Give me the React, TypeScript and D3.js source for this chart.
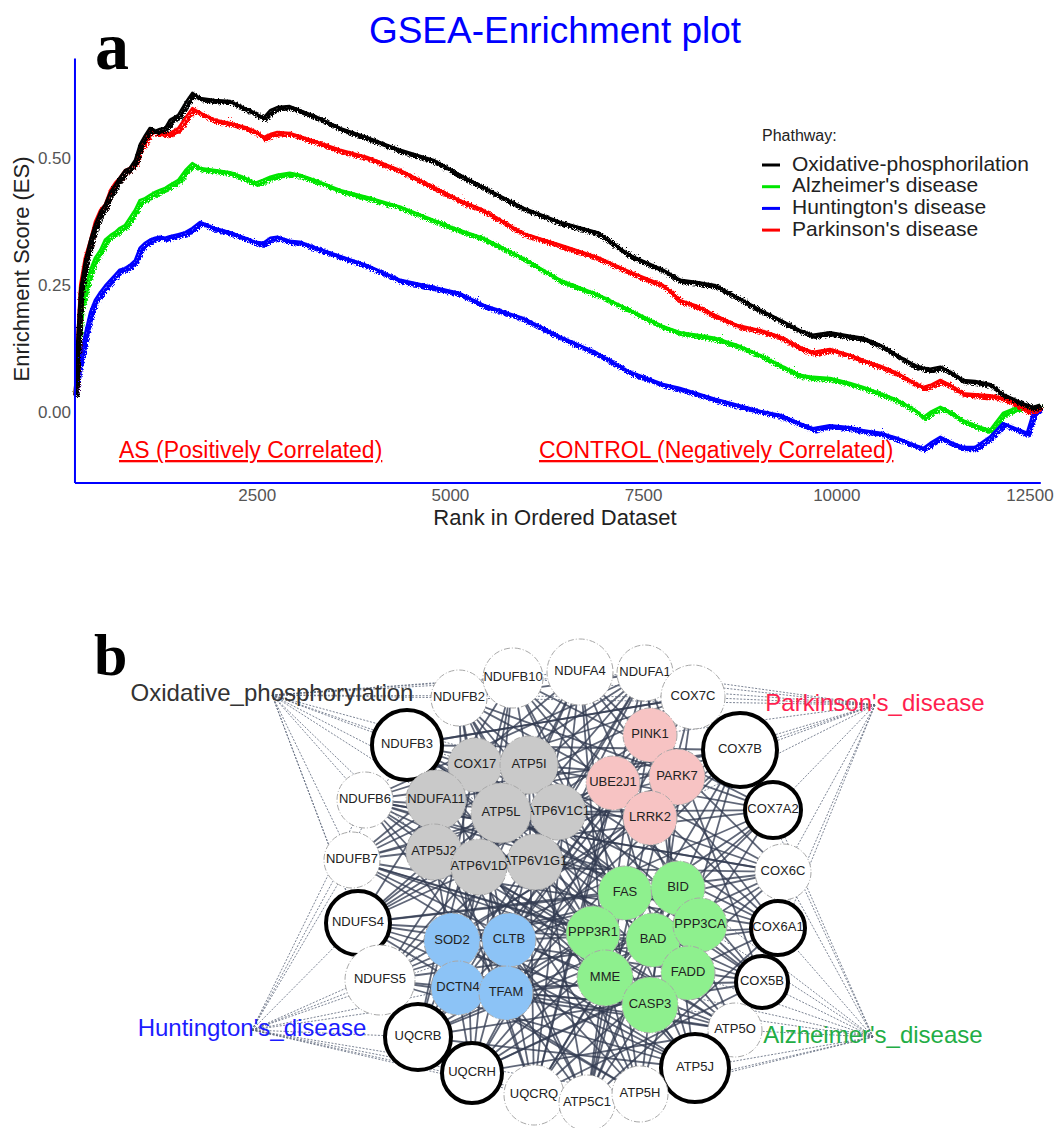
import React from 'react';
import * as d3 from 'd3';

// ---- panel a : GSEA running enrichment score ----
const ranks = [140, 180, 210, 270, 340, 400, 470, 530, 600, 660, 720, 790, 850, 920, 980, 1050, 1110, 1180, 1240, 1310,
  1370, 1480, 1570, 1660, 1760, 1950, 2150, 2340, 2470, 2580, 2670, 2760, 2920, 3050, 3270, 3570, 3920, 4350, 4780, 5120,
  5420, 5940, 6420, 6900, 7320, 7750, 7970, 8190, 8420, 8710, 9010, 9270, 9520, 9690, 9910, 10170, 10340, 10560, 10780, 11010,
  11120, 11210, 11340, 11470, 11630, 11790, 11980, 12150, 12310, 12460, 12540, 12630];

const esOxidative = [0.037, 0.165, 0.244, 0.299, 0.343, 0.372, 0.398, 0.412, 0.437, 0.451,
  0.465, 0.480, 0.484, 0.500, 0.530, 0.549, 0.563, 0.557, 0.561, 0.563,
  0.579, 0.589, 0.612, 0.632, 0.622, 0.618, 0.616, 0.602, 0.593, 0.583,
  0.598, 0.604, 0.606, 0.598, 0.585, 0.563, 0.545, 0.520, 0.500, 0.471,
  0.447, 0.406, 0.378, 0.358, 0.313, 0.284, 0.264, 0.260, 0.254, 0.230,
  0.205, 0.185, 0.165, 0.156, 0.161, 0.154, 0.150, 0.136, 0.116, 0.096,
  0.091, 0.089, 0.093, 0.083, 0.067, 0.065, 0.059, 0.039, 0.028, 0.018,
  0.014, 0.018];

const esParkinson = [0.037, 0.165, 0.254, 0.307, 0.343, 0.378, 0.402, 0.412, 0.441, 0.455,
  0.465, 0.480, 0.484, 0.496, 0.524, 0.540, 0.559, 0.555, 0.555, 0.553,
  0.553, 0.563, 0.583, 0.602, 0.593, 0.579, 0.573, 0.565, 0.557, 0.545,
  0.551, 0.555, 0.553, 0.547, 0.536, 0.520, 0.506, 0.480, 0.447, 0.421,
  0.402, 0.356, 0.333, 0.309, 0.280, 0.254, 0.224, 0.213, 0.195, 0.175,
  0.165, 0.152, 0.132, 0.122, 0.128, 0.116, 0.106, 0.095, 0.081, 0.061,
  0.053, 0.057, 0.067, 0.057, 0.041, 0.039, 0.037, 0.032, 0.020, 0.008,
  0.008, 0.016];

const esAlzheimer = [0.037, 0.146, 0.205, 0.244, 0.284, 0.307, 0.323, 0.343, 0.352, 0.358,
  0.366, 0.372, 0.386, 0.402, 0.421, 0.425, 0.431, 0.437, 0.441, 0.445,
  0.451, 0.461, 0.480, 0.494, 0.484, 0.480, 0.476, 0.465, 0.455, 0.461,
  0.467, 0.471, 0.475, 0.471, 0.459, 0.441, 0.427, 0.408, 0.382, 0.362,
  0.347, 0.307, 0.264, 0.236, 0.205, 0.173, 0.161, 0.156, 0.150, 0.136,
  0.116, 0.096, 0.077, 0.073, 0.071, 0.061, 0.053, 0.041, 0.028, 0.008,
  -0.006, 0.004, 0.014, 0.004, -0.012, -0.022, -0.032, 0.002, 0.012, 0.012,
  0.012, 0.018];

const esHuntington = [0.037, 0.087, 0.106, 0.156, 0.201, 0.224, 0.240, 0.252, 0.264, 0.274,
  0.284, 0.287, 0.293, 0.303, 0.327, 0.337, 0.343, 0.347, 0.349, 0.347,
  0.350, 0.354, 0.358, 0.366, 0.378, 0.366, 0.358, 0.347, 0.339, 0.337,
  0.347, 0.349, 0.341, 0.339, 0.327, 0.311, 0.293, 0.264, 0.250, 0.238,
  0.215, 0.189, 0.152, 0.120, 0.083, 0.059, 0.051, 0.041, 0.030, 0.018,
  0.006, -0.002, -0.018, -0.028, -0.022, -0.026, -0.032, -0.037, -0.047, -0.061,
  -0.067, -0.057, -0.045, -0.055, -0.065, -0.065, -0.045, -0.018, -0.028, -0.037,
  0.002, 0.014];

const pathwayNames = ['Oxidative-phosphorilation', "Alzheimer's disease", "Huntington's disease", "Parkinson's disease"];
const pathwayColors = ['#000000', '#00e600', '#0000ff', '#ff0000'];
const esTicks = [0, 0.25, 0.5];
const rankTicks = [2500, 5000, 7500, 10000, 12500];

// ---- panel b : gene network ----
const ringGenes = ['NDUFB2', 'NDUFB10', 'NDUFA4', 'NDUFA1', 'COX7C', 'NDUFB3', 'COX7B', 'NDUFB6', 'COX7A2', 'NDUFB7',
  'COX6C', 'NDUFS4', 'COX6A1', 'NDUFS5', 'COX5B', 'UQCRB', 'ATP5O', 'UQCRH', 'ATP5J', 'UQCRQ', 'ATP5C1', 'ATP5H'];
const grayGenes = ['COX17', 'ATP5I', 'ATP6V1C1', 'NDUFA11', 'ATP5L', 'ATP5J2', 'ATP6V1G1', 'ATP6V1D'];
const pinkGenes = ['PINK1', 'UBE2J1', 'PARK7', 'LRRK2'];
const blueGenes = ['SOD2', 'CLTB', 'DCTN4', 'TFAM'];
const greenGenes = ['FAS', 'BID', 'PPP3R1', 'BAD', 'PPP3CA', 'MME', 'FADD', 'CASP3'];
const boldGenes = ['NDUFB3', 'COX7B', 'COX7A2', 'NDUFS4', 'COX6A1', 'COX5B', 'UQCRB', 'UQCRH', 'ATP5J'];

const pathways = ['Oxidative_phosphorylation', "Parkinson's_disease", "Huntington's_disease", "Alzheimer's_disease"];
const pathwayLabelColors = ['#333333', '#ff1f4f', '#1c1cff', '#22ad45'];
const pathwayMembers = [
  ['NDUFB2', 'NDUFB10', 'NDUFA4', 'NDUFA1', 'NDUFB3', 'NDUFB6', 'NDUFB7', 'NDUFS4', 'NDUFS5', 'NDUFA11', 'COX17', 'ATP5I', 'ATP5J2', 'ATP5L', 'COX7C'],
  ['COX7C', 'NDUFA1', 'NDUFA4', 'COX7B', 'COX7A2', 'COX6C', 'COX6A1', 'PINK1', 'PARK7', 'LRRK2', 'UBE2J1', 'NDUFB10', 'COX5B', 'NDUFB2'],
  ['NDUFB6', 'NDUFB7', 'NDUFS4', 'NDUFS5', 'UQCRB', 'UQCRH', 'UQCRQ', 'SOD2', 'DCTN4', 'CLTB', 'TFAM', 'ATP5C1', 'NDUFB3', 'ATP5H'],
  ['COX6C', 'COX6A1', 'COX5B', 'ATP5O', 'ATP5J', 'ATP5H', 'COX7A2', 'FADD', 'CASP3', 'PPP3CA', 'ATP5C1', 'BID', 'MME', 'COX7B'],
];

const interactions = [
  ['NDUFB2', 'COX7A2'], ['NDUFB2', 'ATP5O'], ['NDUFB2', 'UQCRQ'], ['NDUFB2', 'COX6C'], ['NDUFB2', 'ATP5H'],
  ['NDUFB10', 'UQCRH'], ['NDUFB10', 'COX5B'], ['NDUFB10', 'ATP5C1'], ['NDUFB10', 'NDUFS4'], ['NDUFB10', 'COX6A1'], ['NDUFB10', 'ATP5J'],
  ['NDUFA4', 'UQCRB'], ['NDUFA4', 'ATP5H'], ['NDUFA4', 'NDUFS5'], ['NDUFA4', 'COX6C'], ['NDUFA4', 'UQCRQ'], ['NDUFA4', 'NDUFB7'], ['NDUFA4', 'ATP5O'],
  ['NDUFA1', 'UQCRQ'], ['NDUFA1', 'NDUFB6'], ['NDUFA1', 'ATP5C1'], ['NDUFA1', 'NDUFS4'], ['NDUFA1', 'COX5B'], ['NDUFA1', 'UQCRB'], ['NDUFA1', 'ATP5J'],
  ['COX7C', 'NDUFB7'], ['COX7C', 'UQCRH'], ['COX7C', 'ATP5C1'], ['COX7C', 'NDUFS5'], ['COX7C', 'NDUFB3'],
  ['COX7B', 'NDUFB6'], ['COX7B', 'UQCRB'], ['COX7B', 'ATP5H'], ['COX7B', 'NDUFS4'], ['COX7B', 'NDUFB3'], ['COX7B', 'UQCRQ'],
  ['COX7A2', 'NDUFB7'], ['COX7A2', 'UQCRH'], ['COX7A2', 'NDUFS5'], ['COX7A2', 'ATP5C1'], ['COX7A2', 'NDUFB3'],
  ['COX6C', 'NDUFB6'], ['COX6C', 'UQCRB'], ['COX6C', 'UQCRQ'], ['COX6C', 'NDUFB3'], ['COX6C', 'NDUFS4'],
  ['COX6A1', 'NDUFB7'], ['COX6A1', 'UQCRH'], ['COX6A1', 'NDUFS5'], ['COX6A1', 'NDUFB3'], ['COX6A1', 'ATP5C1'],
  ['COX5B', 'NDUFB6'], ['COX5B', 'UQCRB'], ['COX5B', 'NDUFS4'], ['COX5B', 'NDUFB3'], ['COX5B', 'UQCRQ'],
  ['ATP5O', 'NDUFB3'], ['ATP5O', 'NDUFB6'], ['ATP5O', 'NDUFS4'], ['ATP5O', 'UQCRH'],
  ['ATP5J', 'NDUFB3'], ['ATP5J', 'NDUFB7'], ['ATP5J', 'UQCRB'], ['ATP5J', 'NDUFS5'],
  ['ATP5H', 'NDUFB3'], ['ATP5H', 'NDUFB6'], ['ATP5H', 'NDUFS4'],
  ['ATP5C1', 'NDUFB3'], ['ATP5C1', 'NDUFB6'], ['UQCRQ', 'NDUFB3'], ['UQCRH', 'NDUFB2'], ['UQCRB', 'NDUFB10'],
  ['NDUFB2', 'COX5B'], ['NDUFB10', 'COX7A2'], ['NDUFA4', 'COX6A1'], ['NDUFA4', 'UQCRH'], ['NDUFA1', 'NDUFB7'], ['NDUFA1', 'NDUFS5'],
  ['COX7C', 'NDUFB6'], ['COX7C', 'UQCRB'], ['COX7B', 'NDUFB7'], ['COX7B', 'ATP5C1'], ['COX6C', 'UQCRH'], ['COX6A1', 'NDUFB6'],
  ['NDUFB3', 'COX7C'], ['NDUFB2', 'NDUFA1'], ['NDUFB6', 'COX6C'], ['NDUFB7', 'COX5B'], ['NDUFS4', 'ATP5J'], ['NDUFS5', 'ATP5O'],
  ['COX17', 'UQCRB'], ['COX17', 'COX5B'], ['ATP5I', 'UQCRQ'], ['ATP5I', 'COX6A1'], ['ATP5L', 'ATP5J'], ['ATP5L', 'NDUFS4'],
  ['ATP6V1C1', 'COX7A2'], ['ATP6V1C1', 'ATP5H'], ['ATP5J2', 'UQCRH'], ['ATP5J2', 'ATP5O'], ['ATP6V1D', 'ATP5C1'], ['ATP6V1D', 'COX6C'],
  ['ATP6V1G1', 'ATP5J'], ['ATP6V1G1', 'NDUFB3'], ['NDUFA11', 'COX7B'], ['NDUFA11', 'UQCRQ'],
  ['PINK1', 'NDUFS4'], ['PINK1', 'UQCRH'], ['PINK1', 'ATP5C1'], ['PARK7', 'UQCRB'], ['PARK7', 'NDUFB7'], ['PARK7', 'ATP5H'],
  ['LRRK2', 'NDUFS5'], ['LRRK2', 'ATP5C1'], ['LRRK2', 'NDUFB6'], ['UBE2J1', 'UQCRQ'], ['UBE2J1', 'NDUFS4'], ['UBE2J1', 'ATP5J'],
  ['SOD2', 'COX7B'], ['SOD2', 'NDUFA4'], ['SOD2', 'ATP5J'], ['CLTB', 'COX7C'], ['CLTB', 'NDUFA1'], ['CLTB', 'COX6A1'],
  ['DCTN4', 'COX5B'], ['DCTN4', 'NDUFB10'], ['DCTN4', 'ATP5H'], ['TFAM', 'COX7A2'], ['TFAM', 'NDUFB2'], ['TFAM', 'ATP5O'],
  ['FAS', 'NDUFB3'], ['FAS', 'NDUFS4'], ['FAS', 'UQCRH'], ['BID', 'NDUFB6'], ['BID', 'NDUFS5'], ['BID', 'UQCRQ'],
  ['PPP3R1', 'NDUFB2'], ['PPP3R1', 'UQCRB'], ['PPP3R1', 'NDUFB7'], ['BAD', 'NDUFB10'], ['BAD', 'NDUFS4'], ['BAD', 'ATP5C1'],
  ['PPP3CA', 'NDUFB3'], ['PPP3CA', 'UQCRB'], ['MME', 'NDUFA4'], ['MME', 'NDUFB6'], ['MME', 'UQCRQ'],
  ['FADD', 'NDUFB7'], ['FADD', 'NDUFA1'], ['FADD', 'UQCRH'], ['CASP3', 'NDUFB2'], ['CASP3', 'NDUFS5'], ['CASP3', 'COX7C'],
  ['SOD2', 'BID'], ['CLTB', 'PINK1'], ['TFAM', 'FADD'], ['DCTN4', 'CASP3'], ['ATP5L', 'BAD'], ['ATP5I', 'PARK7'],
  ['COX17', 'LRRK2'], ['ATP6V1D', 'MME'], ['ATP5J2', 'PPP3R1'], ['NDUFA11', 'FAS'],
  ['SOD2', 'COX6C'], ['CLTB', 'ATP5O'], ['TFAM', 'COX7B'], ['DCTN4', 'NDUFA1'], ['MME', 'COX7A2'], ['CASP3', 'NDUFB7'],
];

// layout units (x 0-90, y 0-50) -> [x, y, radius]
const nodeLayout = {
  NDUFB2: [35.9, 7.8, 2.8], NDUFB10: [41.3, 5.8, 3.0], NDUFA4: [48.0, 5.2, 3.3], NDUFA1: [54.5, 5.3, 2.8],
  COX7C: [59.3, 7.7, 3.2], NDUFB3: [30.7, 12.5, 3.5], COX7B: [64.0, 13.0, 3.7], NDUFB6: [26.5, 18.0, 2.8],
  COX7A2: [67.3, 19.0, 2.8], NDUFB7: [25.2, 24.0, 2.8], COX6C: [68.3, 25.2, 2.8], NDUFS4: [25.8, 30.3, 3.2],
  COX6A1: [67.8, 30.8, 2.7], NDUFS5: [28.0, 36.0, 3.5], COX5B: [66.2, 36.2, 2.6], UQCRB: [31.8, 41.7, 3.3],
  ATP5O: [63.5, 41.0, 2.7], UQCRH: [37.2, 45.3, 3.0], ATP5J: [59.5, 44.8, 3.4], UQCRQ: [43.4, 47.5, 3.0],
  ATP5C1: [48.7, 48.3, 2.8], ATP5H: [54.0, 47.4, 2.8],
  COX17: [37.5, 14.5, 2.7], ATP5I: [42.9, 14.5, 2.9], NDUFA11: [33.6, 18.0, 3.0], ATP6V1C1: [45.8, 19.2, 2.8],
  ATP5L: [40.1, 19.3, 3.0], ATP5J2: [33.4, 23.2, 2.8], ATP6V1G1: [43.5, 24.2, 2.8], ATP6V1D: [37.9, 24.7, 2.8],
  PINK1: [55.0, 11.5, 2.7], UBE2J1: [51.3, 16.3, 2.7], PARK7: [57.7, 15.7, 2.8], LRRK2: [55.0, 19.8, 2.7],
  SOD2: [35.2, 32.1, 2.8], CLTB: [40.9, 32.0, 2.7], DCTN4: [35.8, 36.8, 2.7], TFAM: [40.6, 37.3, 2.7],
  FAS: [52.5, 27.3, 2.7], BID: [57.8, 26.8, 2.7], PPP3R1: [49.3, 31.3, 2.7], BAD: [55.3, 32.0, 2.7],
  PPP3CA: [60.0, 30.5, 2.7], MME: [50.5, 35.8, 2.8], FADD: [58.8, 35.3, 2.7], CASP3: [55.0, 38.5, 2.8],
};
const hubLayout = [[17.2, 7.5], [77.5, 8.5], [15.2, 41.0], [77.3, 41.7]];

const font = "'Liberation Sans', Arial, sans-serif";

export default function App() {
  const x = d3.scaleLinear().domain([0, 12500]).range([64, 1030]);
  const y = d3.scaleLinear().domain([0, 0.5]).range([414, 160]);
  const line = d3.line<number>().x((_, i) => x(ranks[i])).y(d => y(d));
  const series = [esOxidative, esAlzheimer, esHuntington, esParkinson];
  const drawOrder = [1, 2, 3, 0];

  const nx = d3.scaleLinear().domain([0, 90]).range([100, 1000]);
  const ny = d3.scaleLinear().domain([0, 50]).range([620, 1120]);
  const nr = (r: number) => nx(r) - nx(0);

  const groups = [
    { genes: ringGenes, fill: '#ffffff' },
    { genes: grayGenes, fill: '#c9c9c9' },
    { genes: pinkGenes, fill: '#f7c3c3' },
    { genes: blueGenes, fill: '#8cc3f6' },
    { genes: greenGenes, fill: '#8ef08e' },
  ];

  const pos = (g: string) => {
    const p = (nodeLayout as any)[g];
    return [nx(p[0]), ny(p[1]), nr(p[2])];
  };

  return (
    <svg width={1064} height={1128} style={{ position: 'absolute', left: 0, top: 0, background: '#fff' }}
      fontFamily={font}>
      <defs>
        <filter id="rough" x="-2%" y="-5%" width="104%" height="110%">
          <feTurbulence type="turbulence" baseFrequency="0.7" numOctaves={1} seed={4} result="noise" />
          <feDisplacementMap in="SourceGraphic" in2="noise" scale={6} xChannelSelector="R" yChannelSelector="G" />
        </filter>
      </defs>

      {/* ---------- panel a ---------- */}
      <text x={555} y={43} textAnchor="middle" fontSize={37} fill="#0000ff">GSEA-Enrichment plot</text>
      <text x={95} y={69} fontSize={68} fontWeight="bold" fontFamily="'Liberation Serif', 'Times New Roman', serif">a</text>

      {drawOrder.map(k => (
        <g key={k}>
          <path d={line(series[k]) || ''} fill="none" stroke={pathwayColors[k]} strokeWidth={2.6} strokeLinejoin="round" />
          <path d={line(series[k]) || ''} fill="none" stroke={pathwayColors[k]} strokeWidth={4.4} strokeLinejoin="round"
            filter="url(#rough)" />
        </g>
      ))}

      <line x1={x(142)} x2={x(142)} y1={y(0.7)} y2={y(-0.136)} stroke="#0000ff" strokeWidth={2} />
      <line x1={x(142)} x2={x(12640)} y1={y(-0.136)} y2={y(-0.136)} stroke="#0000ff" strokeWidth={2} />

      {esTicks.map(t => (
        <text key={t} x={71} y={y(t)} textAnchor="end" dominantBaseline="middle" fontSize={17} fill="#555">{t.toFixed(2)}</text>
      ))}
      {rankTicks.map(t => (
        <text key={t} x={x(t)} y={497} textAnchor="middle" dominantBaseline="middle" fontSize={17} fill="#555">{t}</text>
      ))}
      <text x={555} y={519} textAnchor="middle" dominantBaseline="middle" fontSize={22} fill="#222">Rank in Ordered Dataset</text>
      <text transform="translate(23,269) rotate(-90)" textAnchor="middle" dominantBaseline="middle" fontSize={22} fill="#222">Enrichment Score (ES)</text>

      <text x={119} y={458} fontSize={23} fill="#ff0000" textDecoration="underline">AS (Positively Correlated)</text>
      <text x={539} y={458} fontSize={23} fill="#ff0000" textDecoration="underline">CONTROL (Negatively Correlated)</text>

      <text x={762} y={137} dominantBaseline="middle" fontSize={16} fill="#222">Phathway:</text>
      {pathwayNames.map((n, i) => (
        <g key={n} transform={`translate(762,${165 + i * 21.7})`}>
          <line x1={0} x2={18} y1={0} y2={0} stroke={pathwayColors[i]} strokeWidth={3} />
          <text x={30} y={0} dominantBaseline="middle" fontSize={21} fill="#222">{n}</text>
        </g>
      ))}

      {/* ---------- panel b ---------- */}
      <text x={94} y={675} fontSize={60} fontWeight="bold" fontFamily="'Liberation Serif', 'Times New Roman', serif">b</text>

      <g stroke="#333c52" strokeWidth={1.8} strokeOpacity={0.78}>
        {interactions.map(([a, b], i) => {
          const pa = pos(a), pb = pos(b);
          return <line key={i} x1={pa[0]} y1={pa[1]} x2={pb[0]} y2={pb[1]} />;
        })}
      </g>

      <g stroke="#5b6478" strokeWidth={0.8} strokeDasharray="2 1.5">
        {pathwayMembers.map((members, i) => members.map(g => {
          const p = pos(g);
          return <line key={i + g} x1={nx(hubLayout[i][0])} y1={ny(hubLayout[i][1])} x2={p[0]} y2={p[1]} />;
        }))}
      </g>

      {groups.map((grp) => grp.genes.map(g => {
        const p = pos(g);
        const bold = boldGenes.includes(g);
        return (
          <g key={g}>
            <circle cx={p[0]} cy={p[1]} r={p[2]} fill={grp.fill}
              stroke={bold ? '#000' : '#a8a8a8'} strokeWidth={bold ? 4 : 1}
              strokeDasharray={bold ? undefined : '6 2 1 2'} />
            <text x={p[0]} y={p[1]} textAnchor="middle" dominantBaseline="middle" fontSize={13} fill="#222">{g}</text>
          </g>
        );
      }))}

      {pathways.map((name, i) => (
        <text key={name} x={nx(hubLayout[i][0])} y={ny(hubLayout[i][1])} textAnchor="middle" dominantBaseline="middle"
          fontSize={24} fill={pathwayLabelColors[i]}>{name}</text>
      ))}
    </svg>
  );
}
